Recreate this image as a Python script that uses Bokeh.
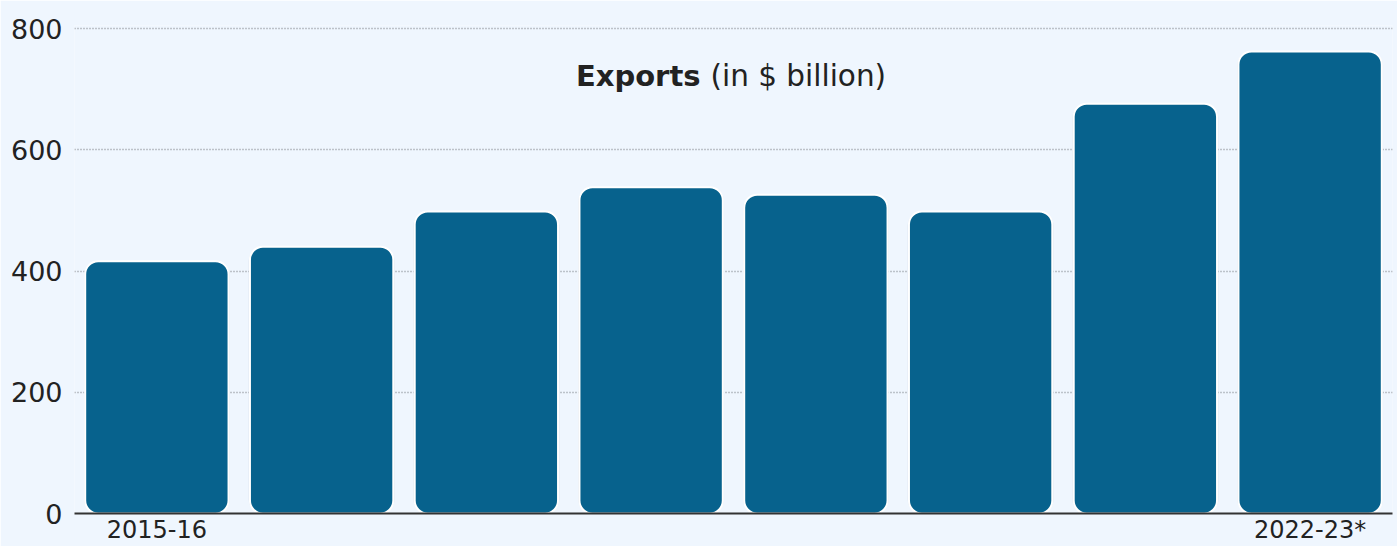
from bokeh.plotting import figure
from bokeh.models import Range1d, FixedTicker, ColumnDataSource
from bokeh.embed import file_html
from bokeh.resources import INLINE
from bokeh.core.properties import value

years = ["2015-16", "2016-17", "2017-18", "2018-19", "2019-20", "2020-21", "2021-22", "2022-23*"]
exports = [416, 440, 498, 538, 526, 498, 676, 762]
y_ticks = [0, 200, 400, 600, 800]
shown_years = [0, 7]
title_bold = "Exports"
title_rest = "(in $ billion)"

xs = list(range(len(years)))
src = ColumnDataSource(dict(x=xs, top=exports))

BG = "#EFF6FE"
FONT = "DejaVu Sans"
p = figure(width=1397, height=546, output_backend="svg", toolbar_location=None,
           x_range=Range1d(-0.5, len(years) - 0.5), y_range=Range1d(0, 805),
           min_border_left=74, min_border_right=5, min_border_top=25, min_border_bottom=32,
           background_fill_color=BG, border_fill_color=BG, outline_line_color=None)

# shadow
p.vbar(x="x", top="top", bottom=0, width=0.885, source=src, fill_color="#c9d2dc",
       fill_alpha=0.6, line_color=None, border_radius=14)
p.vbar(x="x", top="top", bottom=0, width=0.87, source=src, fill_color="#07628D",
       line_color="#ffffff", line_width=2, border_radius=13)

p.xgrid.grid_line_color = None
p.ygrid.ticker = FixedTicker(ticks=y_ticks)
p.ygrid.grid_line_color = "#8a8f95"
p.ygrid.grid_line_dash = "1 2"
p.ygrid.grid_line_width = 1.5

p.yaxis.ticker = FixedTicker(ticks=y_ticks)
p.yaxis.axis_line_color = None
p.yaxis.major_tick_line_color = None
p.yaxis.minor_tick_line_color = None
p.yaxis.major_tick_out = 0
p.yaxis.minor_tick_out = 0
p.yaxis.major_label_text_font = FONT
p.yaxis.major_label_text_font_size = "27px"
p.yaxis.major_label_text_color = "#222222"
p.yaxis.major_label_standoff = 12

p.xaxis.ticker = FixedTicker(ticks=shown_years)
p.xaxis.major_label_overrides = {i: years[i] for i in shown_years}
p.xaxis.axis_line_color = "#333333"
p.xaxis.axis_line_width = 2
p.xaxis.major_tick_line_color = None
p.xaxis.minor_tick_line_color = None
p.xaxis.major_tick_out = 0
p.xaxis.minor_tick_out = 0
p.xaxis.major_label_text_font = FONT
p.xaxis.major_label_text_font_size = "24px"
p.xaxis.major_label_text_color = "#222222"
p.xaxis.major_label_standoff = 2

p.text(x=[3.30], y=[722], text=[title_bold], text_align="right", text_baseline="middle",
       text_font=value(FONT), text_font_style="bold", text_font_size="29px",
       text_color="#222222")
p.text(x=[3.36], y=[722], text=[title_rest], text_align="left", text_baseline="middle",
       text_font=value(FONT), text_font_size="29.5px", text_color="#222222")

open("out.html", "w").write(file_html(p, INLINE))
